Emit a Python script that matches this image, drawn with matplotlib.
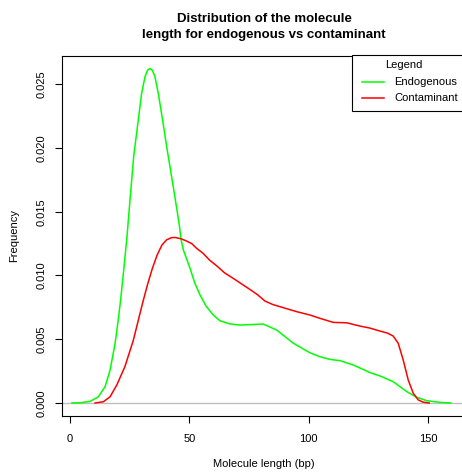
import matplotlib
matplotlib.use("Agg")
import matplotlib.pyplot as plt
from matplotlib.lines import Line2D
from matplotlib.patches import Rectangle

plt.rcParams['font.family'] = ['Liberation Sans', 'DejaVu Sans']

# density curves
endo_x = [0.8, 4.2, 8.4, 11.9, 14.7, 16.8, 18.9, 20.2, 21.2, 22.6, 23.9, 25.3, 26.7,
          28.6, 30.0, 31.4, 32.5, 33.5, 34.5, 35.6, 37.0, 38.8, 40.5, 42.0, 44.0,
          45.8, 46.5, 47.5, 50.3, 52.3, 54.5, 57, 60, 62.8, 67, 71.2, 76, 81.0, 86.6,
          93.6, 100.5, 104.7, 108.9, 113.1, 118.7, 125.7, 129.9, 135.4, 141.1,
          145.2, 149.4, 155.0, 159.5]
endo_y = [0, 0.00002, 0.00012, 0.00049, 0.00128, 0.00259, 0.00468, 0.0065, 0.00807,
          0.0106, 0.0131, 0.0163, 0.01936, 0.02218, 0.02427, 0.02557, 0.0261,
          0.02623, 0.0261, 0.02557, 0.02427, 0.02218, 0.0201, 0.0184, 0.0161,
          0.01395, 0.01285, 0.0120, 0.01055, 0.0094, 0.00846, 0.0076, 0.0069, 0.00645,
          0.0062, 0.00611, 0.00615, 0.00619, 0.00572, 0.00468, 0.00394, 0.00363,
          0.00342, 0.00332, 0.00298, 0.00238, 0.00212, 0.00167, 0.00089, 0.00045,
          0.00018, 0.00005, 0]

cont_x = [10.5, 14.0, 16.8, 19.6, 23.0, 26.5, 28.5, 30.5, 32.5, 34.5, 36.5, 38.5,
          40.5, 42.5, 44.0, 46.5, 48.8, 51, 53.1, 55.8, 58.5, 61.5, 64.8, 68.4, 74.7,
          78.5, 81.7, 85, 88.0, 95.0, 100.5, 104.7, 110.3, 115.9, 121.5, 125.5,
          129.9, 133, 135.4, 137.5, 139.6, 141.7, 143.8, 145.9, 148, 150.5]
cont_y = [0, 0.0001, 0.00049, 0.00141, 0.00285, 0.0049, 0.0064, 0.0079, 0.0093,
          0.01055, 0.0116, 0.01238, 0.0128, 0.01296, 0.01298, 0.01288, 0.0127, 0.0125,
          0.01212, 0.01173, 0.0112, 0.01075, 0.0102, 0.00977, 0.00899, 0.0085,
          0.00799, 0.00772, 0.00755, 0.00716, 0.0069, 0.00664, 0.00632, 0.00629,
          0.00603, 0.00588, 0.00564, 0.00548, 0.00525, 0.00468, 0.00337, 0.0018,
          0.00076, 0.00024, 0.00006, 0]

x_ticks = [0, 50, 100, 150]
y_ticks = [0, 0.005, 0.010, 0.015, 0.020, 0.025]
labels = ["Endogenous", "Contaminant"]
colors = ["#00ff00", "#ff0000"]

W, H = 462, 473
fig = plt.figure(figsize=(W / 100, H / 100), dpi=100)
# plot box in pixels: left 62, top 56, bottom 416, right runs past the edge
ax = fig.add_axes([62 / W, 1 - 416 / H, (466.6 - 62) / W, (416 - 56) / H])

ax.axhline(0, color="#bebebe", lw=1.0, zorder=1)
ax.plot(endo_x, endo_y, color=colors[0], lw=1.1, zorder=2)
ax.plot(cont_x, cont_y, color=colors[1], lw=1.1, zorder=3)

ax.set_xlim(-3.35, 166.15)
ax.set_ylim(-0.00102, 0.02721)
ax.set_xticks(x_ticks)
ax.set_xticklabels([str(t) for t in x_ticks])
ax.set_yticks(y_ticks)
ax.set_yticklabels(["%.3f" % t for t in y_ticks], rotation=90, va="center")

for s in ax.spines.values():
    s.set_color("black")
    s.set_linewidth(0.8)
ax.tick_params(direction="out", length=5, width=0.8, labelsize=8,
               color="black", pad=6)
ax.tick_params(axis="x", pad=8)

ax.set_xlabel("Molecule length (bp)", fontsize=8, labelpad=11)
ax.set_ylabel("Frequency", fontsize=8, labelpad=13)

fig.text(264 / W, 1 - 27 / H, "Distribution of the molecule\nlength for endogenous vs contaminant",
         ha="center", va="center", fontsize=9.5, fontweight="bold", linespacing=1.35)

# legend box, drawn the R way: it runs past the right edge
fig.add_artist(Rectangle((352 / W, 1 - 111 / H), 120 / W, 56 / H, transform=fig.transFigure,
                         facecolor="white", edgecolor="black", lw=0.8, zorder=5))
fig.text(404 / W, 1 - 65 / H, "Legend", ha="center", va="center", fontsize=8, zorder=6)
for i, (lab, c) in enumerate(zip(labels, colors)):
    yy = 1 - (82 + 16 * i) / H
    fig.add_artist(Line2D([362 / W, 384 / W], [yy, yy], transform=fig.transFigure,
                          color=c, lw=1.1, zorder=6))
    fig.text(394 / W, yy, lab, ha="left", va="center", fontsize=8, zorder=6)

fig.savefig("out.png", dpi=100)
